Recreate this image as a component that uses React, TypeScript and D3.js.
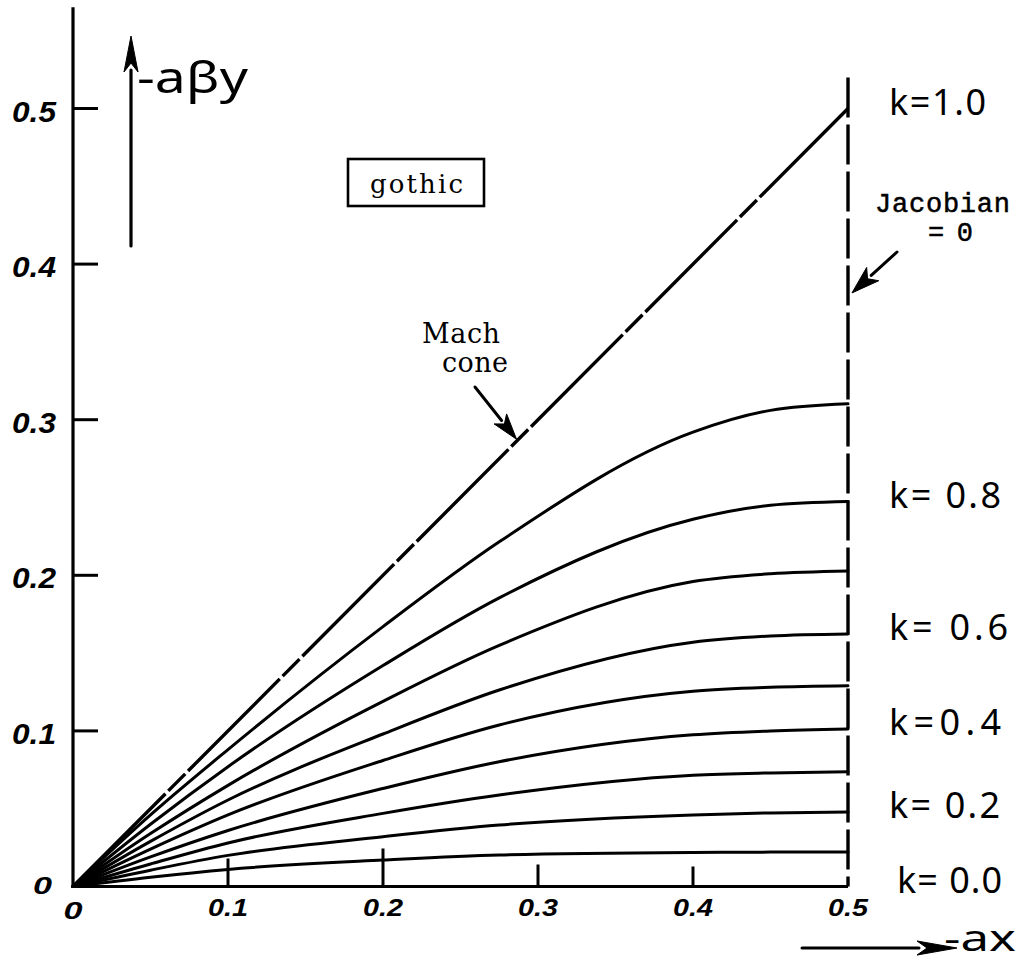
import React from "react";
import * as d3 from "d3";

const W = 1027;
const H = 964;

// Sample abscissae (-ax) shared by every curve
const xSamples = [0, 0.05, 0.1, 0.2, 0.275, 0.4, 0.45, 0.5];

// -aβy along each constant-k line
const curveK01 = [0, 0.006, 0.011, 0.017, 0.0203, 0.0219, 0.0221, 0.0222];
const curveK02 = [0, 0.0105, 0.02, 0.032, 0.0395, 0.046, 0.0473, 0.0479];
const curveK03 = [0, 0.0145, 0.028, 0.047, 0.0588, 0.0715, 0.073, 0.0738];
const curveK04 = [0, 0.019, 0.036, 0.063, 0.0802, 0.0975, 0.1, 0.1012];
const curveK05 = [0, 0.024, 0.046, 0.081, 0.1038, 0.1255, 0.128, 0.129];
const curveK06 = [0, 0.029, 0.0556, 0.098, 0.1263, 0.157, 0.161, 0.1623];
const curveK07 = [0, 0.034, 0.065, 0.119, 0.155, 0.196, 0.201, 0.2028];
const curveK08 = [0, 0.04, 0.077, 0.142, 0.1855, 0.236, 0.245, 0.2474];
const curveK09 = [0, 0.046, 0.088, 0.167, 0.2215, 0.292, 0.306, 0.3102];

const kValues = [0.1, 0.2, 0.3, 0.4, 0.5, 0.6, 0.7, 0.8, 0.9];
const kSeries = [curveK01, curveK02, curveK03, curveK04, curveK05, curveK06, curveK07, curveK08, curveK09];

// Mach cone (k = 1.0): -aβy = -ax
const machX = [0, 0.5];
const machY = [0, 0.5];

// Jacobian = 0 boundary
const jacobianX = 0.5;
const jacobianTop = 0.52;

const xTicks = [0.1, 0.2, 0.3, 0.4];
const xTickLabels = ["0", "0.1", "0.2", "0.3", "0.4", "0.5"];
const xTickLabelValues = [0, 0.1, 0.2, 0.3, 0.4, 0.5];
const yTicks = [0.1, 0.2, 0.3, 0.4, 0.5];
const yTickLabels = ["0", "0.1", "0.2", "0.3", "0.4", "0.5"];
const yTickLabelValues = [0, 0.1, 0.2, 0.3, 0.4, 0.5];

const kLabelText = ["k=1.0", "k= 0.8", "k= 0.6", "k=0.4", "k= 0.2", "k= 0.0"];
const kLabelLevels = [1.0, 0.8, 0.6, 0.4, 0.2, 0.0];
const kLabelWidths = [97, 112, 119, 112, 111, 105];

const x = d3.scaleLinear().domain([0, 0.5]).range([73, 848]);
const y = d3.scaleLinear().domain([0, 0.5]).range([886.5, 108.5]);

const line = d3
  .line<[number, number]>()
  .x((d) => x(d[0]))
  .y((d) => y(d[1]))
  .curve(d3.curveMonotoneX);

function endValue(level: number): number {
  if (level >= 1) return machY[machY.length - 1];
  if (level <= 0) return 0;
  const i = kValues.findIndex((k) => Math.abs(k - level) < 1e-9);
  const s = kSeries[i];
  return s[s.length - 1];
}

function Arrow(props: { x1: number; y1: number; x2: number; y2: number; head: number; half: number; width: number }) {
  const { x1, y1, x2, y2, head, half, width } = props;
  const dx = x2 - x1;
  const dy = y2 - y1;
  const L = Math.hypot(dx, dy);
  const ux = dx / L;
  const uy = dy / L;
  const bx = x2 - ux * head;
  const by = y2 - uy * head;
  const px = -uy;
  const py = ux;
  const pts = [
    [x2, y2],
    [bx + px * half, by + py * half],
    [bx + ux * head * 0.25, by + uy * head * 0.25],
    [bx - px * half, by - py * half],
  ]
    .map((p) => p.join(","))
    .join(" ");
  return (
    <g>
      <line x1={x1} y1={y1} x2={bx + ux * 2} y2={by + uy * 2} stroke="#000" strokeWidth={width} strokeLinecap="round" />
      <polygon points={pts} fill="#000" stroke="#000" strokeWidth={1} strokeLinejoin="round" />
    </g>
  );
}

const tickFont = "'Liberation Sans', 'DejaVu Sans', sans-serif";
const handFont = "'Noto Sans', 'DejaVu Sans', sans-serif";
const serifFont = "'DejaVu Serif', 'Liberation Serif', serif";
const monoFont = "'Liberation Mono', 'DejaVu Sans Mono', monospace";

export default function App() {
  return (
    <svg
      width={W}
      height={H}
      viewBox={`0 0 ${W} ${H}`}
      style={{ position: "absolute", left: 0, top: 0, background: "#fff" }}
    >
      <rect x={0} y={0} width={W} height={H} fill="#fff" />

      {/* axes */}
      <line x1={x(0)} y1={y(0.565)} x2={x(0)} y2={y(0) + 1.5} stroke="#000" strokeWidth={3.2} />
      <line x1={x(0) - 1.5} y1={y(0)} x2={x(0.5)} y2={y(0)} stroke="#000" strokeWidth={3.2} />

      {yTicks.map((t) => (
        <line key={"yt" + t} x1={x(0)} y1={y(t)} x2={x(0) + 25} y2={y(t)} stroke="#000" strokeWidth={3} />
      ))}
      {xTicks.map((t, i) => (
        <line key={"xt" + t} x1={x(t)} y1={y(0)} x2={x(t)} y2={y(0) - [28, 38, 22, 20][i]} stroke="#000" strokeWidth={3} />
      ))}

      {yTickLabels.map((s, i) => (
        <text
          key={"yl" + s}
          x={i === 0 ? 52 : 56}
          y={y(yTickLabelValues[i]) + (i === 0 ? 7 : 13)}
          textAnchor="end"
          fontFamily={tickFont}
          fontStyle="italic"
          fontWeight="bold"
          fontSize={i === 0 ? 24 : 30}
          textLength={i === 0 ? 19 : 44}
          lengthAdjust="spacingAndGlyphs"
        >
          {s}
        </text>
      ))}
      {xTickLabels.map((s, i) => (
        <text
          key={"xl" + s}
          x={x(xTickLabelValues[i])}
          y={i === 0 ? 919 : 916}
          textAnchor="middle"
          fontFamily={tickFont}
          fontStyle="italic"
          fontWeight="bold"
          fontSize={i === 0 ? 24 : 23}
          textLength={i === 0 ? 19 : 40}
          lengthAdjust="spacingAndGlyphs"
        >
          {s}
        </text>
      ))}

      {/* constant-k curves */}
      {kSeries.map((s, i) => (
        <path
          key={"k" + kValues[i]}
          d={line(xSamples.map((xv, j) => [xv, s[j]] as [number, number])) || ""}
          fill="none"
          stroke="#000"
          strokeWidth={3}
          strokeLinecap="round"
        />
      ))}

      {/* Mach cone */}
      <path
        d={line(machX.map((xv, j) => [xv, machY[j]] as [number, number])) || ""}
        fill="none"
        stroke="#000"
        strokeWidth={3.4}
        strokeDasharray="130 4 24 4"
        strokeDashoffset={161}
      />

      {/* Jacobian = 0 boundary */}
      <line
        x1={x(jacobianX)}
        y1={y(jacobianTop)}
        x2={x(jacobianX)}
        y2={y(0)}
        stroke="#000"
        strokeWidth={3.4}
        strokeDasharray="40 7"
      />

      {/* axis arrows and titles */}
      <Arrow x1={131} y1={246} x2={131} y2={36} head={36} half={7} width={3.2} />
      <text x={137} y={93} fontFamily={handFont} fontSize={44} textLength={111} lengthAdjust="spacingAndGlyphs">
        -aβy
      </text>
      <Arrow x1={802} y1={948} x2={957} y2={948} head={40} half={7} width={3} />
      <text x={944} y={951} fontFamily={handFont} fontSize={36} textLength={72} lengthAdjust="spacingAndGlyphs">
        -ax
      </text>

      {/* gothic label */}
      <rect x={348} y={159} width={136} height={47} fill="none" stroke="#000" strokeWidth={2.6} />
      <text x={370} y={193} fontFamily={serifFont} fontSize={26} textLength={93} lengthAdjust="spacing">
        gothic
      </text>

      {/* Mach cone annotation */}
      <text x={422} y={343} fontFamily={serifFont} fontSize={27} textLength={78} lengthAdjust="spacing">
        Mach
      </text>
      <text x={442} y={372} fontFamily={serifFont} fontSize={27} textLength={66} lengthAdjust="spacing">
        cone
      </text>
      <Arrow x1={475} y1={387} x2={x(0.2855) + 1} y2={y(0.2855) - 3} head={26} half={8} width={3} />

      {/* Jacobian annotation */}
      <text x={875} y={212} fontFamily={monoFont} fontSize={27} textLength={135} lengthAdjust="spacing" stroke="#000" strokeWidth={0.5}>
        Jacobian
      </text>
      <text x={928} y={241} fontFamily={monoFont} fontSize={27} textLength={45} lengthAdjust="spacing" stroke="#000" strokeWidth={0.5}>
        = 0
      </text>
      <Arrow x1={897} y1={252} x2={x(jacobianX) + 4} y2={y(0.3815)} head={28} half={9} width={3} />

      {/* k labels at the right-hand end of each line */}
      {kLabelText.map((s, i) => (
        <text
          key={"kl" + i}
          x={i === 5 ? 897 : 889}
          y={y(endValue(kLabelLevels[i])) + 6}
          fontFamily={handFont}
          fontSize={36}
          textLength={kLabelWidths[i]}
          lengthAdjust="spacing"
        >
          {s}
        </text>
      ))}
    </svg>
  );
}
